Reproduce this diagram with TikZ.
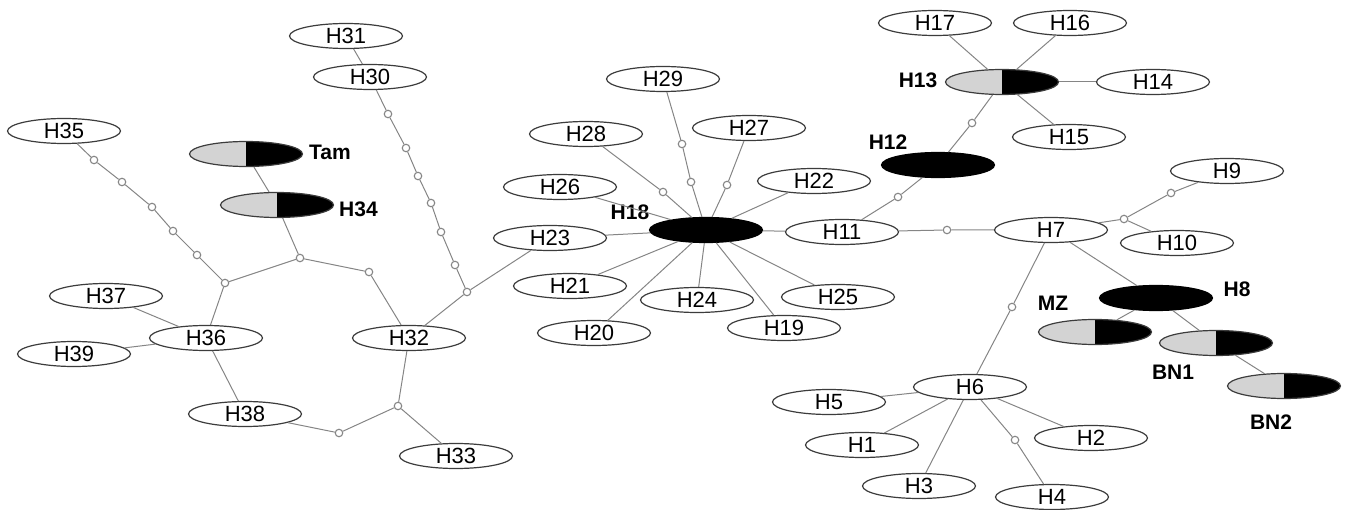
\documentclass[tikz,border=0pt]{standalone}
\usepackage{fontspec}
\setmainfont{Liberation Sans}
\usetikzlibrary{shapes.geometric}

\definecolor{edgegray}{HTML}{858585}
\definecolor{rimgray}{HTML}{3C3C3C}
\definecolor{halfgray}{HTML}{D3D3D3}

\tikzset{
  hap/.style={ellipse, draw=rimgray, line width=1.2pt, fill=white,
    minimum width=113pt, minimum height=25pt, inner sep=0pt,
    font=\fontsize{22}{22}\selectfont},
  blackhap/.style={hap, fill=black, draw=black},
  splithap/.style={hap, path picture={
      \fill[halfgray] (path picture bounding box.south west) rectangle (path picture bounding box.north);
      \fill[black] (path picture bounding box.south) rectangle (path picture bounding box.north east);}},
  mv/.style={circle, draw=edgegray, fill=white, line width=1.1pt,
    minimum size=7.5pt, inner sep=0pt},
  tag/.style={font=\fontsize{21}{21}\selectfont\bfseries, inner sep=0pt},
  link/.style={draw=edgegray, line width=1pt},
}

\begin{document}
\begin{tikzpicture}[x=1pt, y=-1pt]
\useasboundingbox (0,0) rectangle (1351,510);

% ---------- left part ----------
\node[hap] (H31) at (346,36) {H31};
\node[hap] (H30) at (370,77) {H30};
\node[hap] (H35) at (64,131) {H35};
\node[splithap] (Tam) at (246,154) {};
\node[tag, anchor=west] (lTam) at (309,152) {Tam};
\node[splithap] (H34) at (277,205) {};
\node[tag, anchor=west] (lH34) at (339,209) {H34};
\node[hap] (H37) at (106,296) {H37};
\node[hap] (H36) at (206,338) {H36};
\node[hap] (H39) at (74,354) {H39};
\node[hap] (H38) at (245,414) {H38};
\node[hap] (H32) at (409,338) {H32};
\node[hap] (H33) at (456,456) {H33};

\node[mv] (a1) at (94,160) {};
\node[mv] (a2) at (122,182) {};
\node[mv] (a3) at (152,207) {};
\node[mv] (a4) at (173,231) {};
\node[mv] (a5) at (197,255) {};
\node[mv] (L1) at (225,283) {};
\node[mv] (L2) at (300,258) {};
\node[mv] (m1) at (369,272) {};
\node[mv] (s1) at (388,114) {};
\node[mv] (s2) at (406,148) {};
\node[mv] (s3) at (418,176) {};
\node[mv] (s4) at (431,203) {};
\node[mv] (s5) at (441,232) {};
\node[mv] (s6) at (455,265) {};
\node[mv] (J1) at (467,292) {};
\node[mv] (b1) at (339,433) {};
\node[mv] (J2) at (398,406) {};

% ---------- central star ----------
\node[blackhap] (H18) at (706,230) {};
\node[tag] (lH18) at (630,212) {H18};
\node[hap] (H29) at (663,79) {H29};
\node[hap] (H27) at (749,128) {H27};
\node[hap] (H28) at (586,134) {H28};
\node[hap] (H26) at (560,187) {H26};
\node[hap] (H23) at (550,238) {H23};
\node[hap] (H21) at (570,286) {H21};
\node[hap] (H20) at (594,333) {H20};
\node[hap] (H24) at (697,300) {H24};
\node[hap] (H19) at (784,328) {H19};
\node[hap] (H25) at (838,297) {H25};
\node[hap] (H22) at (814,181) {H22};
\node[hap] (H11) at (842,232) {H11};
\node[mv] (d1) at (682,144) {};
\node[mv] (d2) at (691,182) {};
\node[mv] (c1) at (663,192) {};
\node[mv] (e1) at (727,185) {};

% ---------- right part ----------
\node[blackhap] (H12) at (938,165) {};
\node[tag] (lH12) at (888,142) {H12};
\node[splithap] (H13) at (1002,82) {};
\node[tag] (lH13) at (918,80) {H13};
\node[hap] (H17) at (935,23) {H17};
\node[hap] (H16) at (1070,23) {H16};
\node[hap] (H14) at (1153,82) {H14};
\node[hap] (H15) at (1069,137) {H15};
\node[mv] (f1) at (898,197) {};
\node[mv] (g1) at (972,123) {};

\node[hap] (H7) at (1051,230) {H7};
\node[mv] (k1) at (947,230) {};
\node[mv] (J3) at (1124,219) {};
\node[mv] (p1) at (1171,193) {};
\node[hap] (H9) at (1227,171) {H9};
\node[hap] (H10) at (1177,243) {H10};

\node[blackhap] (H8) at (1156,298) {};
\node[tag] (lH8) at (1237,289) {H8};
\node[splithap] (MZ) at (1095,332) {};
\node[tag] (lMZ) at (1053,303) {MZ};
\node[splithap] (BN1) at (1216,343) {};
\node[tag] (lBN1) at (1173,372) {BN1};
\node[splithap] (BN2) at (1284,386) {};
\node[tag] (lBN2) at (1271,422) {BN2};

\node[mv] (q1) at (1012,307) {};
\node[hap] (H6) at (970,387) {H6};
\node[hap] (H5) at (829,402) {H5};
\node[hap] (H1) at (862,445) {H1};
\node[hap] (H2) at (1091,438) {H2};
\node[hap] (H3) at (919,486) {H3};
\node[hap] (H4) at (1052,497) {H4};
\node[mv] (r1) at (1015,440) {};

% ---------- connectors ----------
\draw[link] (H31) -- (H30);
\draw[link] (H30) -- (s1) -- (s2) -- (s3) -- (s4) -- (s5) -- (s6) -- (J1);
\draw[link] (J1) -- (H23);
\draw[link] (J1) -- (H32);
\draw[link] (H35) -- (a1) -- (a2) -- (a3) -- (a4) -- (a5) -- (L1);
\draw[link] (L1) -- (H36);
\draw[link] (L1) -- (L2);
\draw[link] (Tam) -- (H34);
\draw[link] (H34) -- (L2);
\draw[link] (L2) -- (m1) -- (H32);
\draw[link] (H36) -- (H37);
\draw[link] (H36) -- (H39);
\draw[link] (H36) -- (H38);
\draw[link] (H38) -- (b1) -- (J2);
\draw[link] (J2) -- (H32);
\draw[link] (J2) -- (H33);

\foreach \t in {H23,H26,H21,H20,H24,H19,H25,H22,H11}
  \draw[link] (H18) -- (\t);
\draw[link] (H18) -- (c1) -- (H28);
\draw[link] (H18) -- (d2) -- (d1) -- (H29);
\draw[link] (H18) -- (e1) -- (H27);

\draw[link] (H11) -- (f1) -- (H12) -- (g1) -- (H13);
\foreach \t in {H17,H16,H14,H15}
  \draw[link] (H13) -- (\t);
\draw[link] (H11) -- (k1) -- (H7);
\draw[link] (H7) -- (J3);
\draw[link] (J3) -- (H10);
\draw[link] (J3) -- (p1) -- (H9);
\draw[link] (H7) -- (q1) -- (H6);
\draw[link] (H7) -- (H8);
\draw[link] (H8) -- (MZ);
\draw[link] (H8) -- (BN1);
\draw[link] (BN1) -- (BN2);
\foreach \t in {H5,H1,H3,H2}
  \draw[link] (H6) -- (\t);
\draw[link] (H6) -- (r1) -- (H4);
\end{tikzpicture}
\end{document}
